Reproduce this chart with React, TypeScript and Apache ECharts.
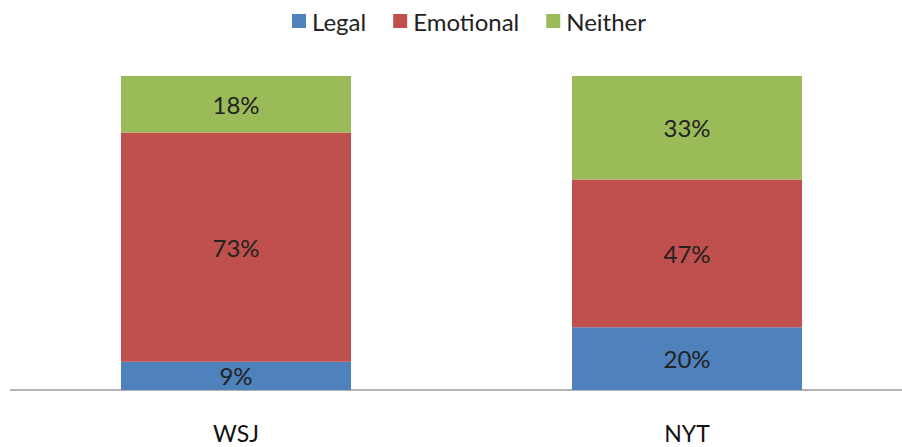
import React, { useEffect, useRef } from "react";
import * as echarts from "echarts";

const categories = ["WSJ", "NYT"];
const legalValues = [9, 20];
const emotionalValues = [73, 47];
const neitherValues = [18, 33];
const seriesNames = ["Legal", "Emotional", "Neither"];
const colors = ["#4F81BD", "#C0504D", "#9BBB59"];

export default function App() {
  const ref = useRef<HTMLDivElement>(null);
  useEffect(() => {
    document.body.style.margin = "0";
    const chart = echarts.init(ref.current!, null, { renderer: "svg" });
    const font = "Lato, 'Open Sans', sans-serif";
    const data = [legalValues, emotionalValues, neitherValues];
    chart.setOption({
      animation: false,
      color: colors,
      legend: {
        top: 4,
        left: 287,
        itemWidth: 14,
        itemHeight: 14,
        itemGap: 27,
        icon: "rect",
        textStyle: { fontSize: 24, color: "#222", fontFamily: font, padding: [0, 0, 0, 1] },
        data: seriesNames,
      },
      grid: {
        left: 10.5,
        top: 76,
        width: 902,
        bottom: 57,
        containLabel: false,
        outerBoundsMode: "none",
      },
      xAxis: {
        type: "category",
        data: categories,
        axisLine: { show: true, lineStyle: { color: "#9a9a9a", width: 1.5 } },
        axisTick: { show: false },
        axisLabel: { fontSize: 23, color: "#111", margin: 31, fontFamily: font },
      },
      yAxis: {
        type: "value",
        min: 0,
        max: 100,
        show: false,
        splitLine: { show: false },
      },
      series: seriesNames.map((name, i) => ({
        name,
        type: "bar",
        stack: "total",
        barWidth: 230,
        data: data[i],
        label: {
          show: true,
          position: "inside",
          formatter: "{c}%",
          fontSize: 24,
          color: "#222",
          fontFamily: font,
        },
      })),
    });
    return () => chart.dispose();
  }, []);
  return <div ref={ref} style={{ width: 902, height: 447 }} />;
}
